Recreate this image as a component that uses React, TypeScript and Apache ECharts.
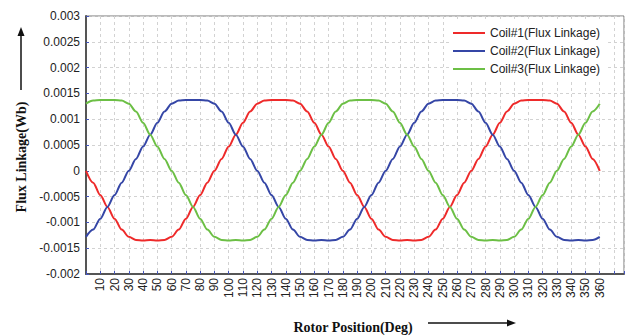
import React, { useEffect, useRef } from "react";
import * as echarts from "echarts";

// Rotor position samples (deg), every 5 degrees from 0 to 360
const angles: number[] = Array.from({ length: 73 }, (_, i) => i * 5);

// Flux linkage values (Wb)
const coil1: number[] = [
  0, -0.00023, -0.00047, -0.0007, -0.00093, -0.00114, -0.00128, -0.00134, -0.00135, -0.00134,
  -0.00135, -0.00134, -0.00128, -0.00114, -0.00093, -0.0007, -0.00047, -0.00023, 0,
  0.00023, 0.00047, 0.0007, 0.00093, 0.00115, 0.0013, 0.00136, 0.00137, 0.00137, 0.00137,
  0.00136, 0.0013, 0.00115, 0.00093, 0.0007, 0.00047, 0.00023, 0,
  -0.00023, -0.00047, -0.0007, -0.00093, -0.00114, -0.00128, -0.00134, -0.00135, -0.00134,
  -0.00135, -0.00134, -0.00128, -0.00114, -0.00093, -0.0007, -0.00047, -0.00023, 0,
  0.00023, 0.00047, 0.0007, 0.00093, 0.00115, 0.0013, 0.00136, 0.00137, 0.00137, 0.00137,
  0.00136, 0.0013, 0.00115, 0.00093, 0.0007, 0.00047, 0.00023, 0,
];

const coil2: number[] = [
  -0.00128, -0.00114, -0.00093, -0.0007, -0.00047, -0.00023, 0,
  0.00023, 0.00047, 0.0007, 0.00093, 0.00115, 0.0013, 0.00136, 0.00137, 0.00137, 0.00137,
  0.00136, 0.0013, 0.00115, 0.00093, 0.0007, 0.00047, 0.00023, 0,
  -0.00023, -0.00047, -0.0007, -0.00093, -0.00114, -0.00128, -0.00134, -0.00135, -0.00134,
  -0.00135, -0.00134, -0.00128, -0.00114, -0.00093, -0.0007, -0.00047, -0.00023, 0,
  0.00023, 0.00047, 0.0007, 0.00093, 0.00115, 0.0013, 0.00136, 0.00137, 0.00137, 0.00137,
  0.00136, 0.0013, 0.00115, 0.00093, 0.0007, 0.00047, 0.00023, 0,
  -0.00023, -0.00047, -0.0007, -0.00093, -0.00114, -0.00128, -0.00134, -0.00135, -0.00134,
  -0.00135, -0.00134, -0.00128,
];

const coil3: number[] = [
  0.0013, 0.00136, 0.00137, 0.00137, 0.00137, 0.00136, 0.0013, 0.00115, 0.00093, 0.0007,
  0.00047, 0.00023, 0,
  -0.00023, -0.00047, -0.0007, -0.00093, -0.00114, -0.00128, -0.00134, -0.00135, -0.00134,
  -0.00135, -0.00134, -0.00128, -0.00114, -0.00093, -0.0007, -0.00047, -0.00023, 0,
  0.00023, 0.00047, 0.0007, 0.00093, 0.00115, 0.0013, 0.00136, 0.00137, 0.00137, 0.00137,
  0.00136, 0.0013, 0.00115, 0.00093, 0.0007, 0.00047, 0.00023, 0,
  -0.00023, -0.00047, -0.0007, -0.00093, -0.00114, -0.00128, -0.00134, -0.00135, -0.00134,
  -0.00135, -0.00134, -0.00128, -0.00114, -0.00093, -0.0007, -0.00047, -0.00023, 0,
  0.00023, 0.00047, 0.0007, 0.00093, 0.00115, 0.0013,
];

const seriesNames: string[] = [
  "Coil#1(Flux Linkage)",
  "Coil#2(Flux Linkage)",
  "Coil#3(Flux Linkage)",
];
const seriesColors: string[] = ["#ee2a2a", "#3546a6", "#6cbf45"];

const xAxisName = "Rotor Position(Deg)";
const yAxisName = "Flux Linkage(Wb)";
const xLabelMin = 10;
const xLabelMax = 360;
const xStep = 10;
const yMin = -0.002;
const yMax = 0.003;
const yStep = 0.0005;

export default function App() {
  const ref = useRef<HTMLDivElement | null>(null);

  useEffect(() => {
    if (!ref.current) return;
    const chart = echarts.init(ref.current, undefined, { renderer: "svg" });
    const allData = [coil1, coil2, coil3];
    const option: any = {
      animation: false,
      backgroundColor: "#ffffff",
      grid: {
        left: 86,
        top: 16,
        right: 3,
        bottom: 62,
        show: true,
        borderColor: "#777",
        borderWidth: 1,
      },
      legend: {
        orient: "vertical",
        left: 449,
        top: 22,
        icon: "rect",
        itemWidth: 32,
        itemHeight: 2,
        itemGap: 4,
        backgroundColor: "#ffffff",
        padding: [4, 8, 4, 4],
        textStyle: { fontSize: 12, fontFamily: "Arial", color: "#222", lineHeight: 14 },
        data: seriesNames,
      },
      xAxis: {
        type: "value",
        min: 0,
        max: 377,
        interval: xStep,
        axisLine: { show: true, onZero: false, lineStyle: { color: "#555", width: 2 } },
        axisTick: { show: true, inside: true, length: 3, lineStyle: { color: "#4455bb" } },
        axisLabel: {
          rotate: 90,
          fontSize: 12,
          fontFamily: "Arial",
          color: "#222",
          margin: 4,
          formatter: (v: number) => (v >= xLabelMin && v <= xLabelMax ? String(v) : ""),
        },
        splitLine: { show: true, lineStyle: { type: [3, 3], color: "#d2d2d2", width: 1 } },
      },
      yAxis: {
        type: "value",
        min: yMin,
        max: yMax,
        interval: yStep,
        axisLine: { show: true, lineStyle: { color: "#555", width: 2 } },
        axisTick: { show: true, inside: true, length: 3, lineStyle: { color: "#4455bb" } },
        axisLabel: {
          fontSize: 12,
          fontFamily: "Arial",
          color: "#222",
          margin: 6,
          formatter: (v: number) => String(parseFloat(v.toFixed(4))),
        },
        splitLine: { show: true, lineStyle: { type: [3, 3], color: "#d2d2d2", width: 1 } },
      },
      series: seriesNames.map((name, k) => ({
        name,
        type: "line",
        symbol: "none",
        showSymbol: false,
        smooth: 0.3,
        smoothMonotone: "x",
        color: seriesColors[k],
        lineStyle: { color: seriesColors[k], width: 2 },
        data: angles.map((a, i) => [a, allData[k][i]]),
      })),
      graphic: [
        {
          type: "text",
          x: 21,
          y: 157,
          rotation: Math.PI / 2,
          style: {
            text: yAxisName,
            font: 'bold 14px "Liberation Serif"',
            fill: "#111",
            align: "center",
            verticalAlign: "middle",
          },
        },
        {
          type: "line",
          shape: { x1: 21, y1: 90, x2: 21, y2: 34 },
          style: { stroke: "#111", lineWidth: 1.5 },
        },
        {
          type: "polygon",
          shape: { points: [[21, 27], [17.5, 36], [24.5, 36]] },
          style: { fill: "#111" },
        },
        {
          type: "text",
          x: 353,
          y: 327,
          style: {
            text: xAxisName,
            font: 'bold 14px "Liberation Serif"',
            fill: "#111",
            align: "center",
            verticalAlign: "middle",
          },
        },
        {
          type: "line",
          shape: { x1: 428, y1: 323, x2: 508, y2: 323 },
          style: { stroke: "#111", lineWidth: 1.5 },
        },
        {
          type: "polygon",
          shape: { points: [[516, 323], [507, 319.5], [507, 326.5]] },
          style: { fill: "#111" },
        },
      ],
    };
    chart.setOption(option);
    return () => chart.dispose();
  }, []);

  return (
    <div
      ref={ref}
      style={{ position: "fixed", left: 0, top: 0, width: 627, height: 336, background: "#fff" }}
    />
  );
}
